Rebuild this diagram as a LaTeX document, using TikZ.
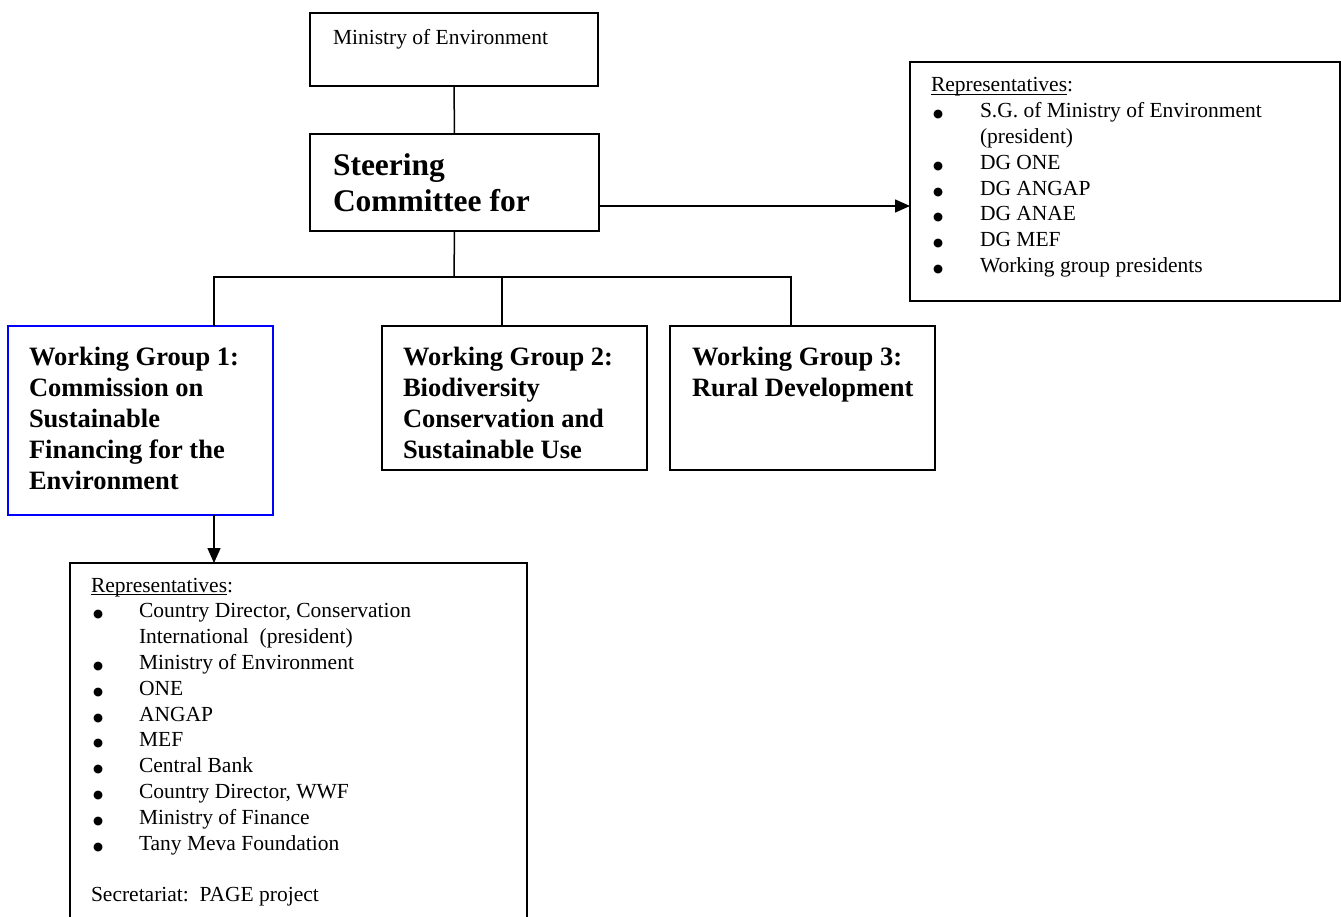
\documentclass[tikz,border=0pt]{standalone}
\usepackage{fontspec}
\setmainfont{Liberation Serif}
\newfontfamily\symfont{DejaVu Sans}
\usetikzlibrary{arrows.meta}
\tikzset{
  box/.style={draw, line width=1.8pt, anchor=north west, inner sep=0pt, outer sep=0pt},
  txt/.style={anchor=base west, inner sep=0pt, outer sep=0pt},
  conn/.style={line width=1.5pt},
  arr/.style={conn, -{Triangle[length=15pt,width=13pt]}},
}
\newcommand{\bodyfont}{\fontsize{21.5}{25.8}\selectfont}
\newcommand{\wgfont}{\fontsize{26.5}{31}\selectfont\bfseries}
\newcommand{\blt}{\hspace{2pt}{\symfont\fontsize{11.5}{11.5}\selectfont ●}}
\newcommand{\ulword}[1]{\setbox0\hbox{#1}\rlap{\rule[-3pt]{\wd0}{1.1pt}}\box0}
\begin{document}
\begin{tikzpicture}[x=1pt,y=-1pt]
\useasboundingbox (0,0) rectangle (1341,917);
\clip (0,0) rectangle (1341,917);
% boxes
\node[box, minimum width=288pt, minimum height=73pt] (min) at (310,13) {};
\node[box, line width=2.8pt, minimum width=289pt, minimum height=97pt] (sc) at (310,134) {};
\node[box, minimum width=430pt, minimum height=239pt] (rep1) at (910,62) {};
\node[box, draw=blue, line width=2.4pt, minimum width=265pt, minimum height=189pt] (wg1) at (8,326) {};
\node[box, minimum width=265pt, minimum height=144pt] (wg2) at (382,326) {};
\node[box, minimum width=265pt, minimum height=144pt] (wg3) at (670,326) {};
\node[box, minimum width=457pt, minimum height=400pt] (rep2) at (70,563) {};
% texts
\node[txt] (mint) at (333,45) {\bodyfont Ministry of Environment};
\node[txt] (sct) at (333,176) {\fontsize{31.5}{36}\selectfont\bfseries\begin{tabular}[t]{@{}l@{}}Steering\\Committee for\end{tabular}};
\node[txt] (wg1t) at (29,365) {\wgfont\begin{tabular}[t]{@{}l@{}}Working Group 1:\\Commission on\\Sustainable\\Financing for the\\Environment\end{tabular}};
\node[txt] (wg2t) at (403,365) {\wgfont\begin{tabular}[t]{@{}l@{}}Working Group 2:\\Biodiversity\\Conservation and\\Sustainable Use\end{tabular}};
\node[txt] (wg3t) at (692,365) {\wgfont\begin{tabular}[t]{@{}l@{}}Working Group 3:\\Rural Development\end{tabular}};
\node[txt] (rep1t) at (931,92) {\bodyfont\begin{tabular}[t]{@{}p{49pt}@{}l@{}}
\multicolumn{2}{@{}l@{}}{\ulword{Representatives}:}\\
\blt & S.G. of Ministry of Environment\\
 & (president)\\
\blt & DG ONE\\
\blt & DG ANGAP\\
\blt & DG ANAE\\
\blt & DG MEF\\
\blt & Working group presidents
\end{tabular}};
\node[txt] (rep2t) at (91,592) {\bodyfont\begin{tabular}[t]{@{}p{48pt}@{}l@{}}
\multicolumn{2}{@{}l@{}}{\ulword{Representatives}:}\\
\blt & Country Director, Conservation\\
 & International\ \ (president)\\
\blt & Ministry of Environment\\
\blt & ONE\\
\blt & ANGAP\\
\blt & MEF\\
\blt & Central Bank\\
\blt & Country Director, WWF\\
\blt & Ministry of Finance\\
\blt & Tany Meva Foundation\\
\multicolumn{2}{@{}l@{}}{}\\
\multicolumn{2}{@{}l@{}}{Secretariat:\ \ PAGE project}
\end{tabular}};
% connectors
\coordinate (bus) at (454,277);
\coordinate (j1) at (214,277);
\coordinate (j2) at (502,277);
\coordinate (j3) at (791,277);
\draw[conn] (min.south) -- (sc.north);
\draw[conn] (sc.south) -- (bus);
\draw[conn] (j1 |- wg1.north) -- (j1) -- (j3) -- (j3 |- wg3.north);
\draw[conn] (j2) -- (j2 |- wg2.north);
\draw[arr] (sc.east |- 0,206) -- (rep1.west |- 0,206);
\draw[arr] (wg1.south -| j1) -- (rep2.north -| j1);
\end{tikzpicture}
\end{document}
